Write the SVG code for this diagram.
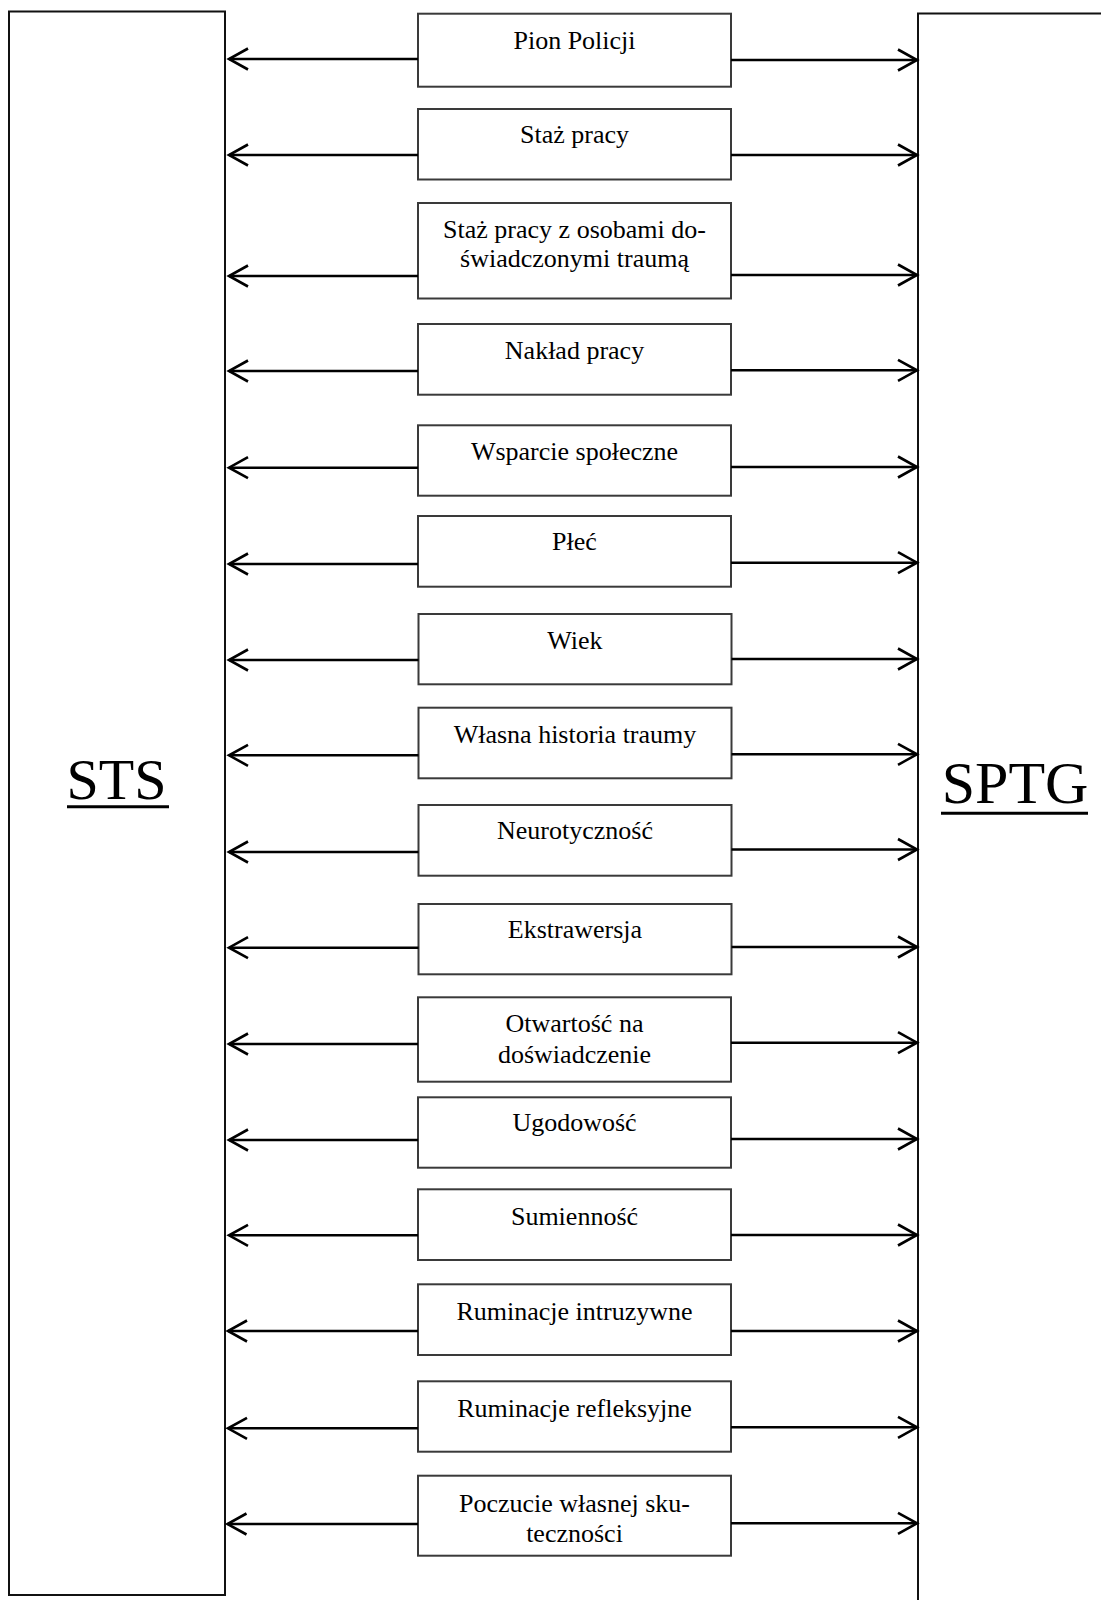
<svg xmlns="http://www.w3.org/2000/svg" width="1101" height="1600" viewBox="0 0 1101 1600">
  <defs>
    <style>
      .big { fill: #fff; stroke: #111; stroke-width: 2; }
      .box { fill: #fff; stroke: #3a3a3a; stroke-width: 2; }
      .lbl { font-family: "Liberation Serif", "Times New Roman", serif; font-size: 26px; fill: #000; text-anchor: middle; }
      .title { font-family: "Liberation Serif", "Times New Roman", serif; fill: #000; text-anchor: middle; }
      .ul { stroke: #000; stroke-width: 3; }
      .conn { stroke: #000; stroke-width: 2.6; fill: none; marker-end: url(#chev); }
    </style>
    <marker id="chev" markerUnits="userSpaceOnUse" markerWidth="26" markerHeight="26" refX="22" refY="13" orient="auto" overflow="visible">
      <path d="M3,2.5 L22,13 L3,23.5" fill="none" stroke="#000" stroke-width="2.6"/>
    </marker>
  </defs>

  <rect width="1101" height="1600" fill="#fff"/>

  <!-- outcome blocks -->
  <g id="sts">
    <rect class="big" x="9" y="11.5" width="216" height="1583.5"/>
    <text class="title" x="116.5" y="799" font-size="58">STS</text>
    <line class="ul" x1="67" y1="806.7" x2="169" y2="806.7"/>
  </g>
  <g id="sptg">
    <rect class="big" x="918" y="13.5" width="200" height="1600"/>
    <text class="title" x="1015" y="803" font-size="60">SPTG</text>
    <line class="ul" x1="941" y1="813.3" x2="1088" y2="813.3"/>
  </g>

  <!-- predictor boxes -->
  <g id="pion-policji">
    <rect class="box" x="418" y="13.7" width="313" height="73"/>
    <text class="lbl" x="574.5" y="49">Pion Policji</text>
  </g>
  <g id="staz-pracy">
    <rect class="box" x="418" y="109" width="313" height="70.5"/>
    <text class="lbl" x="574.5" y="142.5">Staż pracy</text>
  </g>
  <g id="staz-trauma">
    <rect class="box" x="418" y="203" width="313" height="95.5"/>
    <text class="lbl" x="574.5" y="237.7">Staż pracy z osobami do-</text>
    <text class="lbl" x="574.5" y="266.7">świadczonymi traumą</text>
  </g>
  <g id="naklad-pracy">
    <rect class="box" x="418" y="324" width="313" height="70.7"/>
    <text class="lbl" x="574.5" y="359">Nakład pracy</text>
  </g>
  <g id="wsparcie">
    <rect class="box" x="418" y="425.3" width="313" height="70.4"/>
    <text class="lbl" x="574.5" y="460">Wsparcie społeczne</text>
  </g>
  <g id="plec">
    <rect class="box" x="418" y="516" width="313" height="70.7"/>
    <text class="lbl" x="574.5" y="550">Płeć</text>
  </g>
  <g id="wiek">
    <rect class="box" x="418.5" y="614" width="313" height="70.3"/>
    <text class="lbl" x="575" y="649">Wiek</text>
  </g>
  <g id="historia">
    <rect class="box" x="418.5" y="707.7" width="313" height="70.6"/>
    <text class="lbl" x="575" y="743.3">Własna historia traumy</text>
  </g>
  <g id="neurotycznosc">
    <rect class="box" x="418.5" y="805" width="313" height="70.7"/>
    <text class="lbl" x="575" y="839.3">Neurotyczność</text>
  </g>
  <g id="ekstrawersja">
    <rect class="box" x="418.5" y="904" width="313" height="70.3"/>
    <text class="lbl" x="575" y="938.3">Ekstrawersja</text>
  </g>
  <g id="otwartosc">
    <rect class="box" x="418" y="997.3" width="313" height="84.4"/>
    <text class="lbl" x="574.5" y="1031.7">Otwartość na</text>
    <text class="lbl" x="574.5" y="1062.7">doświadczenie</text>
  </g>
  <g id="ugodowosc">
    <rect class="box" x="418" y="1097.3" width="313" height="70.4"/>
    <text class="lbl" x="574.5" y="1131">Ugodowość</text>
  </g>
  <g id="sumiennosc">
    <rect class="box" x="418" y="1189.3" width="313" height="70.7"/>
    <text class="lbl" x="574.5" y="1225">Sumienność</text>
  </g>
  <g id="ruminacje-intruzywne">
    <rect class="box" x="418" y="1284.3" width="313" height="70.7"/>
    <text class="lbl" x="574.5" y="1320">Ruminacje intruzywne</text>
  </g>
  <g id="ruminacje-refleksyjne">
    <rect class="box" x="418" y="1381.3" width="313" height="70.4"/>
    <text class="lbl" x="574.5" y="1416.7">Ruminacje refleksyjne</text>
  </g>
  <g id="skutecznosc">
    <rect class="box" x="418" y="1475.7" width="313" height="80"/>
    <text class="lbl" x="574.5" y="1511.7">Poczucie własnej sku-</text>
    <text class="lbl" x="574.5" y="1541.7">teczności</text>
  </g>

  <!-- two-way links: each box points to STS (left) and SPTG (right) -->
  <g id="connectors">
    <line class="conn" x1="418" y1="59" x2="229" y2="59"/>
    <line class="conn" x1="731" y1="60" x2="917" y2="60"/>
    <line class="conn" x1="418" y1="155" x2="229" y2="155"/>
    <line class="conn" x1="731" y1="155" x2="917" y2="155"/>
    <line class="conn" x1="418" y1="276" x2="229" y2="276"/>
    <line class="conn" x1="731" y1="275" x2="917" y2="275"/>
    <line class="conn" x1="418" y1="371" x2="229" y2="371"/>
    <line class="conn" x1="731" y1="370.3" x2="917" y2="370.3"/>
    <line class="conn" x1="418" y1="467.7" x2="229" y2="467.7"/>
    <line class="conn" x1="731" y1="467" x2="917" y2="467"/>
    <line class="conn" x1="418" y1="564" x2="229" y2="564"/>
    <line class="conn" x1="731" y1="562.7" x2="917" y2="562.7"/>
    <line class="conn" x1="418.5" y1="660" x2="229" y2="660"/>
    <line class="conn" x1="731.5" y1="659" x2="917" y2="659"/>
    <line class="conn" x1="418.5" y1="755.3" x2="229" y2="755.3"/>
    <line class="conn" x1="731.5" y1="754.3" x2="917" y2="754.3"/>
    <line class="conn" x1="418.5" y1="852" x2="229" y2="852"/>
    <line class="conn" x1="731.5" y1="849.5" x2="917" y2="849.5"/>
    <line class="conn" x1="418.5" y1="947.7" x2="229" y2="947.7"/>
    <line class="conn" x1="731.5" y1="947" x2="917" y2="947"/>
    <line class="conn" x1="418" y1="1044" x2="229" y2="1044"/>
    <line class="conn" x1="731" y1="1042.7" x2="917" y2="1042.7"/>
    <line class="conn" x1="418" y1="1140" x2="229" y2="1140"/>
    <line class="conn" x1="731" y1="1139" x2="917" y2="1139"/>
    <line class="conn" x1="418" y1="1235.3" x2="229" y2="1235.3"/>
    <line class="conn" x1="731" y1="1235" x2="917" y2="1235"/>
    <line class="conn" x1="418" y1="1331" x2="228" y2="1331"/>
    <line class="conn" x1="731" y1="1331" x2="917" y2="1331"/>
    <line class="conn" x1="418" y1="1428.3" x2="228" y2="1428.3"/>
    <line class="conn" x1="731" y1="1427.3" x2="917" y2="1427.3"/>
    <line class="conn" x1="418" y1="1524" x2="227.5" y2="1524"/>
    <line class="conn" x1="731" y1="1523.3" x2="917" y2="1523.3"/>
  </g>
</svg>
